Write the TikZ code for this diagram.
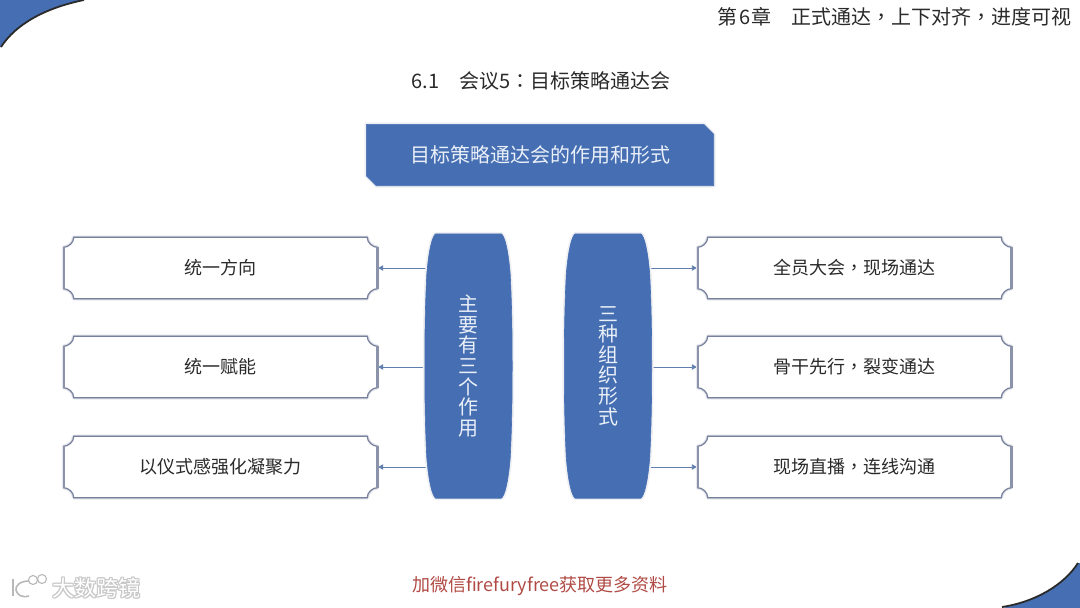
\documentclass[tikz,border=0pt]{standalone}
\usepackage{fontspec}
\setmainfont{Noto Sans CJK SC}
\newfontfamily\wmfont{Noto Sans CJK SC}
\newfontfamily\tcfont{Noto Sans CJK TC}
\newcommand{\cmA}{{\tcfont ，}}
\newcommand{\clA}{{\tcfont ：}}
\definecolor{blueA}{HTML}{466EB2}
\definecolor{edgeA}{HTML}{77809C}
\definecolor{connA}{HTML}{5F7FAE}
\definecolor{inkA}{HTML}{2A2A2A}
\definecolor{redA}{HTML}{B04A44}
\definecolor{paleA}{HTML}{EAF0F8}
\pgfdeclarelayer{connlayer}
\pgfdeclarelayer{shapelayer}
\pgfsetlayers{connlayer,shapelayer,main}
\tikzset{
  x=1pt,y=-1pt,
  pagetext/.style={font=\fontsize{20}{24}\selectfont,text=inkA,inner sep=0pt},
  boxtext/.style={font=\fontsize{18}{22}\selectfont,text=inkA,inner sep=0pt,minimum width=313pt,minimum height=61pt},
  headtext/.style={font=\fontsize{20}{24}\selectfont,text=paleA,inner sep=0pt,minimum width=347pt,minimum height=61pt},
  barreltext/.style={font=\fontsize{20}{20.6}\selectfont,text=paleA,inner sep=0pt,align=center,minimum width=87pt,minimum height=264pt},
  conn/.style={draw=connA,line width=0.9pt,-{Latex[length=6pt,width=6pt]}},
  bodyfill/.style={fill=blueA},
  softa/.style={draw=edgeA!12,line width=4pt,line join=round},
  softb/.style={draw=edgeA!30,line width=2.6pt,line join=round},
  plaqueedge/.style={draw=edgeA,line width=1.2pt,fill=white},
  sideedge/.style={draw=edgeA!85,line width=2.6pt},
}
\usetikzlibrary{arrows.meta}
% plaque outline, drawn behind its node
\newcommand{\plaquepath}[1]{%
  ($(#1.north west)+(10,0)$) -- ($(#1.north east)+(-10,0)$)
  .. controls ($(#1.north east)+(-10,5.5)$) and ($(#1.north east)+(-4.5,10)$) .. ($(#1.north east)+(0,10)$)
  -- ($(#1.south east)+(0,-10)$)
  .. controls ($(#1.south east)+(-4.5,-10)$) and ($(#1.south east)+(-10,-5.5)$) .. ($(#1.south east)+(-10,0)$)
  -- ($(#1.south west)+(10,0)$)
  .. controls ($(#1.south west)+(10,-5.5)$) and ($(#1.south west)+(4.5,-10)$) .. ($(#1.south west)+(0,-10)$)
  -- ($(#1.north west)+(0,10)$)
  .. controls ($(#1.north west)+(4.5,10)$) and ($(#1.north west)+(10,5.5)$) .. ($(#1.north west)+(10,0)$) -- cycle}
\newcommand{\drawplaque}[1]{%
  \begin{pgfonlayer}{shapelayer}
    \path[softa] \plaquepath{#1};
    \path[softb] \plaquepath{#1};
    \path[plaqueedge] \plaquepath{#1};
    \draw[sideedge] ($(#1.north west)+(0,10)$) -- ($(#1.south west)+(0,-10)$);
    \draw[sideedge] ($(#1.north east)+(0,10)$) -- ($(#1.south east)+(0,-10)$);
  \end{pgfonlayer}}
\newcommand{\barrelpath}[1]{%
  ($(#1.north west)+(11,0)$) -- ($(#1.north east)+(-11,0)$)
  .. controls ($(#1.north east)+(-7.5,2)$) and ($(#1.north east)+(-4,16)$) .. ($(#1.east)+(-2,-92)$)
  .. controls ($(#1.east)+(-0.5,-62)$) and ($(#1.east)+(0,-35)$) .. (#1.east)
  .. controls ($(#1.east)+(0,35)$) and ($(#1.east)+(-0.5,62)$) .. ($(#1.east)+(-2,92)$)
  .. controls ($(#1.south east)+(-4,-16)$) and ($(#1.south east)+(-7.5,-2)$) .. ($(#1.south east)+(-11,0)$)
  -- ($(#1.south west)+(11,0)$)
  .. controls ($(#1.south west)+(7.5,-2)$) and ($(#1.south west)+(4,-16)$) .. ($(#1.west)+(2,92)$)
  .. controls ($(#1.west)+(0.5,62)$) and ($(#1.west)+(0,35)$) .. (#1.west)
  .. controls ($(#1.west)+(0,-35)$) and ($(#1.west)+(0.5,-62)$) .. ($(#1.west)+(2,-92)$)
  .. controls ($(#1.north west)+(4,16)$) and ($(#1.north west)+(7.5,2)$) .. ($(#1.north west)+(11,0)$) -- cycle}
\newcommand{\drawbarrel}[1]{%
  \begin{pgfonlayer}{shapelayer}
    \path[softa] \barrelpath{#1};
    \path[bodyfill,draw=blueA,line width=0.6pt] \barrelpath{#1};
  \end{pgfonlayer}}
\usetikzlibrary{calc}
\begin{document}
\begin{tikzpicture}
\useasboundingbox (0,0) rectangle (1080,608);
% corner decorations
\fill[blueA] (0,0) -- (84,0) .. controls (45,8) and (16,24) .. (1,47) -- (0,47) -- cycle;
\draw[inkA,line width=1.8pt] (84,0) .. controls (45,8) and (16,24) .. (1,47);
\fill[blueA] (1080,608) -- (1002,608) .. controls (1035,602) and (1064,585) .. (1078,563) -- (1080,563) -- cycle;
\draw[inkA,line width=1.8pt] (1002,607) .. controls (1035,602) and (1064,585) .. (1078,563);
% page texts
\node[pagetext,anchor=east] (chap) at (1072,17) {第\hspace{1.5pt}6\hspace{1.5pt}章\hspace{20pt}正式通达\cmA{}上下对齐\cmA{}进度可视};
\node[pagetext] (sect) at (541,81) {6.1\hspace{20pt}会议5\clA{}目标策略通达会};
% header
\node[headtext] (head) at (540,155) {目标策略通达会的作用和形式};
\begin{pgfonlayer}{shapelayer}
  \path[softa] (head.north west) -- ($(head.north east)+(-10,0)$) -- ($(head.north east)+(0,10)$) -- (head.south east) -- ($(head.south west)+(10,0)$) -- ($(head.south west)+(0,-10)$) -- cycle;
  \path[bodyfill,draw=blueA,line width=0.6pt] (head.north west) -- ($(head.north east)+(-10,0)$) -- ($(head.north east)+(0,10)$) -- (head.south east) -- ($(head.south west)+(10,0)$) -- ($(head.south west)+(0,-10)$) -- cycle;
\end{pgfonlayer}
% left plaques
\node[boxtext] (a1) at (220.5,268) {统一方向}; \drawplaque{a1}
\node[boxtext] (a2) at (220.5,367) {统一赋能}; \drawplaque{a2}
\node[boxtext] (a3) at (220.5,467) {以仪式感强化凝聚力}; \drawplaque{a3}
% right plaques
\node[boxtext] (b1) at (854.5,268) {全员大会\cmA{}现场通达}; \drawplaque{b1}
\node[boxtext] (b2) at (854.5,367) {骨干先行\cmA{}裂变通达}; \drawplaque{b2}
\node[boxtext] (b3) at (854.5,467) {现场直播\cmA{}连线沟通}; \drawplaque{b3}
% barrels
\node[barreltext] (barL) at (468.5,366) {主\\要\\有\\三\\个\\作\\用}; \drawbarrel{barL}
\node[barreltext] (barR) at (608,366) {三\\种\\组\\织\\形\\式}; \drawbarrel{barR}
% connectors
\begin{pgfonlayer}{connlayer}
  \draw[conn] (barL.center |- a1.east) -- (a1.east);
  \draw[conn] (barL.center |- a2.east) -- (a2.east);
  \draw[conn] (barL.center |- a3.east) -- (a3.east);
  \draw[conn] (barR.center |- b1.west) -- (b1.west);
  \draw[conn] (barR.center |- b2.west) -- (b2.west);
  \draw[conn] (barR.center |- b3.west) -- (b3.west);
\end{pgfonlayer}
% footer
\node[font=\fontsize{18}{20}\selectfont,text=redA,inner sep=0pt] (foot) at (540,586) {加微信firefuryfree获取更多资料};
% watermark
\foreach \dx/\dy in {-1/0,1/0,0/-1,0/1,-1/-1,1/1,1/-1,-1/1}{
  \node[font=\wmfont\fontsize{22}{24}\selectfont,text=black!22,inner sep=0pt,anchor=west] at ($(52,588)+(\dx,\dy)$) {大数跨镜};
}
\node[font=\wmfont\fontsize{22}{24}\selectfont,text=white,inner sep=0pt,anchor=west] (mark) at (52,588) {大数跨镜};
\draw[black!28,line width=1.6pt] (13,579) -- (13,596);
\draw[black!28,line width=1.6pt] (29,581) .. controls (20,581) and (15,586) .. (16,590) .. controls (17,595) and (22,598) .. (29,596);
\draw[black!28,line width=1.1pt] (33,580) circle[radius=4.5];
\draw[black!28,line width=1.1pt] (42,579) circle[radius=4.5];
\end{tikzpicture}
\end{document}
